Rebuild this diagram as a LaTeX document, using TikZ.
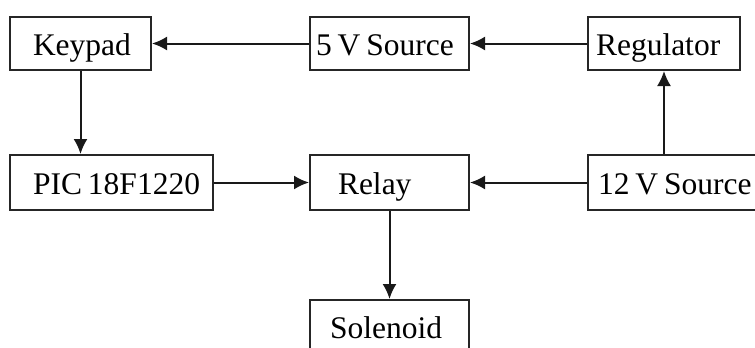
\documentclass[tikz,border=0pt]{standalone}
\usepackage{fontspec}
\setmainfont{Liberation Serif}
\usepackage{tikz}
\tikzset{>=latex}
\usetikzlibrary{arrows.meta, calc}
\def\rowheight{53}
\def\lowheight{55}
\def\textsize{31.5}

\tikzset{
  blockbox/.style n args={2}{draw=black!85, line width=2pt, anchor=north west,
    inner xsep=0pt, inner ysep=0pt, text width=#1, align=left,
    text height=23pt, text depth=0pt,
    execute at begin node={\spaceskip=0.19em\relax\hspace*{#2}}},
  flow/.style={draw=black!90, line width=2pt, -{Latex[length=15pt,width=14pt]}}
}

\begin{document}
\begin{tikzpicture}[x=1pt, y=-1pt, font=\fontsize{\textsize}{36}\selectfont]

\useasboundingbox (0,0) rectangle (755,348);
\clip (0,0) rectangle (755,348);

% Top row
\node[blockbox={141pt}{23pt}, minimum height=\rowheight] (keypad) at (9,16) {Keypad};
\node[blockbox={159pt}{6pt}, minimum height=\rowheight] (fivev) at (309,16) {5 V Source};
\node[blockbox={152pt}{8pt}, minimum height=\rowheight] (reg) at (587,16) {Regulator};

% Middle row
\node[blockbox={203pt}{23pt}, minimum height=\lowheight] (pic) at (9,154) {PIC 18F1220};
\node[blockbox={159pt}{28pt}, minimum height=\lowheight] (relay) at (309,154) {Relay};
\node[blockbox={185pt}{10pt}, minimum height=\lowheight] (twelvev) at (587,154) {12 V Source};

% Bottom
\node[blockbox={159pt}{20pt}, minimum height=\rowheight] (sol) at (309,299) {Solenoid};

% Connections
\draw[flow] (fivev.west) -- (keypad.east);
\draw[flow] (reg.west) -- (fivev.east);
\draw[flow] (keypad.south) -- (keypad.south |- pic.north);
\draw[flow] (pic.east) -- (relay.west);
\draw[flow] (twelvev.west) -- (relay.east);
\draw[flow] (reg.south |- twelvev.north) -- (reg.south);
\draw[flow] (relay.south) -- (sol.north);

\end{tikzpicture}
\end{document}
